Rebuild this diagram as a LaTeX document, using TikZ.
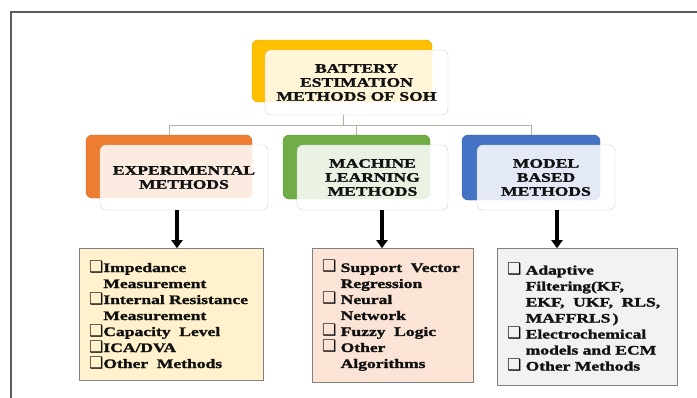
\documentclass[tikz,border=0pt]{standalone}
\usepackage{fontspec}
\usepackage{xcolor}
\usepackage{tikz}
\usetikzlibrary{arrows.meta,positioning}
\newfontfamily\headfont{Liberation Serif}[FakeStretch=1.35, BoldFeatures={FakeBold=1.6}]
\newfontfamily\symfont{DejaVu Sans}
\definecolor{gold}{HTML}{FFC000}
\definecolor{orng}{HTML}{ED7D31}
\definecolor{grn}{HTML}{70AD47}
\definecolor{blu}{HTML}{4472C4}
\definecolor{edge}{HTML}{CAD3C3}
\definecolor{busline}{HTML}{A9B8A0}
\definecolor{frameline}{HTML}{5C5C5C}
\definecolor{listedge}{HTML}{808080}
\definecolor{explist}{HTML}{FFF2CC}
\definecolor{mllist}{HTML}{FBE3D5}
\definecolor{mblist}{HTML}{F2F2F2}
\definecolor{ink}{HTML}{111111}
\newcommand{\sq}{{\symfont\fontsize{16}{16}\selectfont ❑}}

\begin{document}
\begin{tikzpicture}[x=1pt, y=-1pt,
    back/.style={rounded corners=6pt, minimum width=#1, minimum height=64pt, inner sep=0pt},
    front/.style={draw=edge, fill=white, fill opacity=0.85, text opacity=1, rounded corners=6pt,
                minimum height=65pt, align=center, text=ink,
                font=\headfont\bfseries\fontsize{13}{14}\selectfont},
    list/.style={draw=listedge, line width=0.8pt, inner xsep=10pt, align=left, text=ink,
                font=\headfont\bfseries\fontsize{13}{16}\selectfont},
    bus/.style={draw=busline, line width=0.8pt},
    bigarr/.style={-{Triangle[length=8pt,width=11pt]}, line width=3.5pt, black}]
  \useasboundingbox (0,0) rectangle (697,397);
  \clip (0,0) rectangle (697,397);
  \draw[frameline, line width=1.5pt] (11,12) rectangle (720,420);
  \node[back=180pt, minimum height=62pt, fill=gold, draw=gold!85!black] (sohb) at (342,71) {};
  \node[back=166pt, minimum height=63pt, fill=orng, draw=orng!85!black] (expb) at (169,166.5) {};
  \node[back=147pt, fill=grn, draw=grn!85!black] (mlb) at (356.5,167) {};
  \node[back=138pt, minimum height=65pt, fill=blu, draw=blu!85!black] (mbb) at (531,167.5) {};
  \draw[bus] (expb.north) -- ++(0,-9) -| (mbb.north);
  \draw[bus] (mlb.north) -- ++(0,-9);
  \node[front, minimum width=183pt] (soh) at (356.5,82.5) {BATTERY\\ESTIMATION\\METHODS OF SOH};
  \draw[bus] ([xshift=-13.5pt]soh.south) -- ++(0,11);
  \node[front, minimum width=168pt] (exp) at (184,177.5) {EXPERIMENTAL\\METHODS};
  \node[front, minimum width=151pt] (ml) at (372.5,177.5) {MACHINE\\LEARNING\\METHODS};
  \node[front, minimum width=138pt] (mb) at (546,177.5) {MODEL\\BASED\\METHODS};
  \node[list, fill=explist, text width=164pt, minimum height=132pt, below=38pt of exp, xshift=-13pt] (expl)
    {\sq Impedance\\ \hphantom{\sq}Measurement\\ \sq Internal Resistance\\ \hphantom{\sq}Measurement\\
     \sq Capacity\ \ Level\\ \sq ICA/DVA\\ \sq Other\ \ Methods};
  \node[list, fill=mllist, text width=141pt, minimum height=134pt, below=38pt of ml, xshift=20pt] (mll)
    {\sq\ Support\ \ Vector\\ \hphantom{\sq\ }Regression\\ \sq\ Neural\\ \hphantom{\sq\ }Network\\
     \sq\ Fuzzy\ \ Logic\\ \sq\ Other\\ \hphantom{\sq\ }Algorithms};
  \node[list, fill=mblist, text width=160pt, minimum height=137pt, below=38pt of mb, xshift=41pt] (mbl)
    {\sq\ Adaptive\\ \hphantom{\sq\ }Filtering(KF,\\ \hphantom{\sq\ }EKF,\ \ UKF,\ \ RLS,\\
     \hphantom{\sq\ }MAFFRLS\,)\\ \sq\ Electrochemical\\ \hphantom{\sq\ }models and ECM\\ \sq\ Other Methods};
  \draw[bigarr] ([xshift=-7pt]exp.south) -- ([xshift=-7pt]exp.south |- expl.north);
  \draw[bigarr] ([xshift=9.5pt]ml.south) -- ([xshift=9.5pt]ml.south |- mll.north);
  \draw[bigarr] ([xshift=11pt]mb.south) -- ([xshift=11pt]mb.south |- mbl.north);
\end{tikzpicture}
\end{document}
